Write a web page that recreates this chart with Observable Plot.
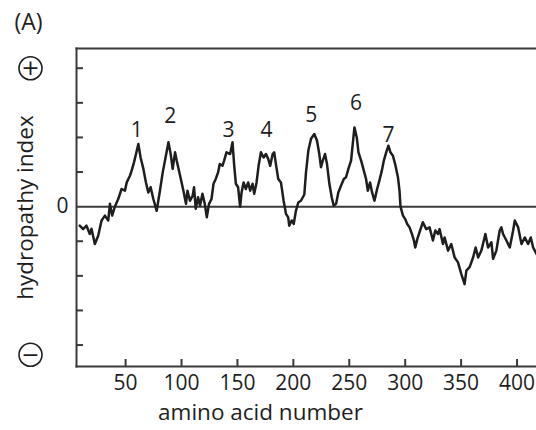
<!DOCTYPE html>
<html>
<head>
<meta charset="utf-8">
<script src="https://cdn.jsdelivr.net/npm/d3@7"></script>
<script src="https://cdn.jsdelivr.net/npm/@observablehq/plot@0.6"></script>
<style>
  html, body { margin: 0; padding: 0; background: #fff; }
</style>
</head>
<body>
<div id="chart"></div>
<script>
const aminoAcid = [9,12,15,18,19.5,22.5,25.5,28.5,31.5,34.5,36,38,40.4,43.4,46.4,49.4,51,54,55.4,57.5,59.3,61.4,63.4,65.9,68.2,70.3,72.4,74.8,77.8,80.7,83.2,85.2,88.3,90.3,92.1,94.2,95.7,98.7,101.7,104,105.3,107.6,110,111.2,112.7,114.8,116.6,118.7,120.8,122.6,124.6,126.8,128.6,130.6,132.7,134.2,136.6,138.1,140.2,143.5,145.6,147,148.6,150.6,152.4,153.7,155.5,157.5,159.6,161.4,163.5,165,167.1,168.9,171,173.4,175.5,177.5,179.3,181.5,182.9,184.4,186.5,188.9,191.3,193.4,195.4,196.3,198.5,200.3,202.3,204.4,206.8,209.8,211.3,213.4,215.8,218.7,221.1,223.2,224.7,226.3,228.3,230.1,232.2,234.3,236.1,238.2,240.2,242.7,245.1,247.1,249.2,251.6,253.1,254.6,256.7,258.2,260.6,263,265,266.6,268.6,270.4,272.5,274.9,276.9,279.1,280.9,283,285,286.8,289,291,293.5,294.9,295.8,298,300,301.8,303.9,306,307.8,309,310.8,312.8,315.8,318.8,321.8,324.8,326.9,329.3,330.7,333.8,335.2,338.3,341.2,344.2,347.2,350.2,353.1,354.7,357.6,360.7,363,365.2,368.1,371.7,374.1,377.1,378.6,381.5,384.5,386,387.5,390.5,393.5,396.5,398,401,404,406.9,409.9,412.3,414.4,417.4];
const hydropathy = [-0.55,-0.65,-0.55,-0.79,-0.64,-1.08,-0.84,-0.4,-0.26,-0.4,0.08,-0.26,0,0.22,0.51,0.46,0.7,0.9,1.04,1.28,1.52,1.81,1.42,1.09,0.7,0.41,0.56,0.22,-0.12,0.46,0.99,1.33,1.86,1.52,1.09,1.57,1.33,0.9,0.46,0.08,0.46,0.17,0.32,0.56,-0.06,0.27,0.03,0.37,0.08,-0.31,0.08,0.22,0.66,0.8,0.99,1.23,1.18,1.33,1.57,1.52,1.86,1.23,0.66,0.56,0,0.41,0.7,0.51,0.7,0.46,0.66,0.37,0.7,1.18,1.57,1.42,1.52,1.38,1.18,1.52,1.57,1.23,0.8,0.7,0.17,-0.21,-0.31,-0.55,-0.4,-0.5,-0.12,0.12,0.17,0.35,0.99,1.62,1.96,2.1,1.91,1.52,1.14,1.33,1.52,1.23,0.66,0.27,0.03,0.08,0.41,0.61,0.8,0.85,1.09,1.33,1.81,2.29,2.0,1.57,1.33,1.04,0.8,0.46,0.7,0.41,0.17,0.51,0.75,1.04,1.33,1.57,1.76,1.57,1.47,1.23,0.85,0.46,0,-0.26,-0.36,-0.5,-0.6,-0.79,-0.98,-1.18,-0.94,-0.74,-0.45,-0.65,-0.6,-0.98,-0.69,-0.79,-0.65,-1.08,-0.89,-1.27,-1.08,-1.47,-1.61,-1.95,-2.24,-1.85,-1.75,-1.47,-1.18,-1.47,-1.27,-0.79,-1.18,-1.03,-1.51,-1.27,-0.69,-0.6,-0.79,-0.98,-1.18,-0.69,-0.4,-0.6,-1.08,-0.89,-1.08,-0.89,-1.18,-1.37];

const peakLabels = ["1","2","3","4","5","6","7"];
const peakX = [60, 90, 142, 176, 216, 256, 285];
const peakY = [2.2, 2.6, 2.2, 2.2, 2.63, 2.98, 2.05];

const xTicks = [50, 100, 150, 200, 250, 300, 350, 400];
const yTicks = [-4, -3, -2, -1, 1, 2, 3, 4];
const signText = ["+", "\u2212"];
const signY = [4, -4.28];

const series = aminoAcid.map((a, i) => ({aa: a, h: hydropathy[i]}));
const peaks = peakLabels.map((t, i) => ({t, x: peakX[i], y: peakY[i]}));
const signs = signText.map((s, i) => ({s, y: signY[i]}));

const ink = "#1e1e1e";
const axisInk = "#3a3a3a";

const chart = Plot.plot({
  width: 536,
  height: 430,
  marginTop: 48,
  marginBottom: 64,
  marginLeft: 76,
  marginRight: 0,
  x: {domain: [6.1, 417.4]},
  y: {domain: [-4.62, 4.57]},
  style: {fontFamily: "'Open Sans', sans-serif", fontSize: "21px", color: ink, background: "#fff"},
  marks: [
    Plot.frame({anchor: "top", stroke: axisInk, strokeWidth: 2}),
    Plot.frame({anchor: "left", stroke: axisInk, strokeWidth: 2}),
    Plot.frame({anchor: "bottom", stroke: axisInk, strokeWidth: 2}),
    Plot.ruleY([0], {stroke: axisInk, strokeWidth: 2}),
    Plot.axisY({ticks: yTicks, tickSize: -7, tickFormat: () => "", label: null, stroke: axisInk, strokeWidth: 2}),
    Plot.axisY({ticks: [0], tickSize: 0, tickPadding: 8, tickFormat: d => String(d), label: null, fill: ink}),
    Plot.axisX({ticks: xTicks, tickSize: -7, tickFormat: () => "", label: null, stroke: axisInk, strokeWidth: 2}),
    Plot.axisX({ticks: xTicks, tickSize: 0, tickPadding: 9, label: null, fill: ink}),
    Plot.line(series, {x: "aa", y: "h", stroke: ink, strokeWidth: 2.5, strokeLinejoin: "round"}),
    Plot.text(peaks, {x: "x", y: "y", text: "t", fontSize: 21, fill: ink}),
    Plot.dot(signs, {y: "y", frameAnchor: "left", dx: -46, r: 11.5, stroke: ink, strokeWidth: 1.6, fill: "none"}),
    Plot.text(signs, {y: "y", text: "s", frameAnchor: "left", dx: -46, textAnchor: "middle", lineAnchor: "middle", fontFamily: "DejaVu Sans", fontSize: 22, fill: ink}),
    Plot.text(["hydropathy index"], {text: d => d, frameAnchor: "left", dx: -51, textAnchor: "middle", lineAnchor: "middle", rotate: -90, fontSize: 22.5, fill: ink}),
    Plot.text(["amino acid number"], {text: d => d, frameAnchor: "bottom", dx: -46, dy: 46, textAnchor: "middle", lineAnchor: "middle", fontSize: 22.5, fill: ink}),
    Plot.text(["(A)"], {text: d => d, frameAnchor: "top-left", dx: -62, dy: -26, textAnchor: "start", lineAnchor: "middle", fontSize: 23, fill: ink})
  ]
});
document.getElementById("chart").appendChild(chart);
</script>
</body>
</html>
